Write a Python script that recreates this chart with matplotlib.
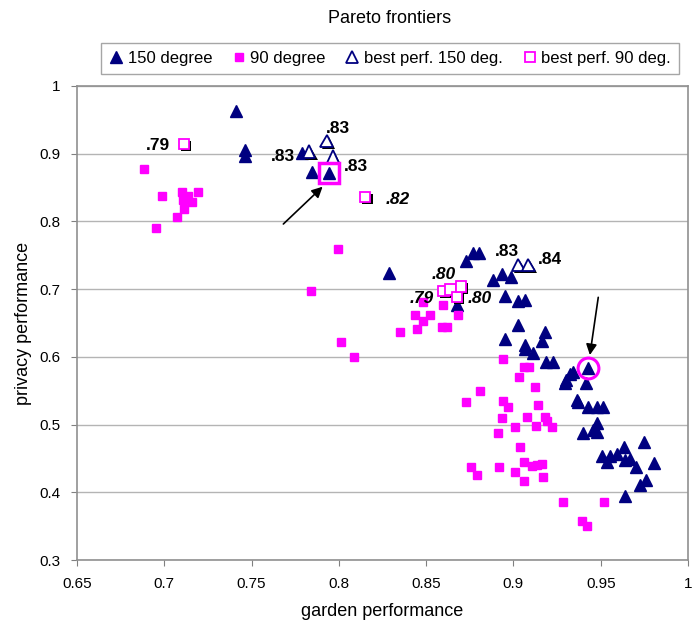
import matplotlib
matplotlib.use("Agg")
import matplotlib.pyplot as plt
import matplotlib.patheffects as pe
from matplotlib.lines import Line2D

plt.rcParams['font.family'] = ['Liberation Sans', 'DejaVu Sans']

# 150 degree runs (garden, privacy)
deg150_x = [0.7411, 0.7463, 0.7463, 0.7787, 0.7844, 0.7943, 0.8286, 0.8728, 0.8770, 0.8804,
            0.8883, 0.8932, 0.8984, 0.8677, 0.8952, 0.9028, 0.9066, 0.9028, 0.8952, 0.9066,
            0.9181, 0.9162, 0.9066, 0.9115, 0.9187, 0.9225, 0.9324, 0.9302, 0.9430, 0.9417,
            0.9363, 0.9372, 0.9430, 0.9477, 0.9515, 0.9477, 0.9397, 0.9455, 0.9477, 0.9748,
            0.9508, 0.9555, 0.9594, 0.9632, 0.9538, 0.9642, 0.9670, 0.9704, 0.9808, 0.9724,
            0.9762, 0.9642, 0.9342, 0.9295]
deg150_y = [0.963, 0.906, 0.897, 0.901, 0.873, 0.872, 0.724, 0.741, 0.753, 0.753,
            0.714, 0.723, 0.718, 0.677, 0.690, 0.682, 0.684, 0.647, 0.627, 0.617,
            0.637, 0.624, 0.612, 0.605, 0.592, 0.592, 0.575, 0.566, 0.583, 0.562,
            0.536, 0.533, 0.526, 0.526, 0.526, 0.502, 0.487, 0.492, 0.489, 0.475,
            0.454, 0.454, 0.457, 0.467, 0.444, 0.447, 0.449, 0.438, 0.443, 0.411,
            0.418, 0.395, 0.578, 0.561]

# 90 degree runs
deg90_x = [0.6881, 0.6985, 0.7100, 0.7105, 0.7137, 0.7156, 0.7195, 0.7113, 0.7074, 0.6952,
           0.7997, 0.7838, 0.8436, 0.8350, 0.8449, 0.8010, 0.8086, 0.8483, 0.8522, 0.8589,
           0.8621, 0.8598, 0.8684, 0.8483, 0.8938, 0.9060, 0.9090, 0.9033, 0.9123, 0.8808,
           0.8726, 0.8938, 0.8970, 0.9142, 0.8932, 0.9079, 0.9180, 0.9190, 0.9129, 0.9221,
           0.9007, 0.8913, 0.9037, 0.8755, 0.8793, 0.8915, 0.9062, 0.9104, 0.9133, 0.9165,
           0.9009, 0.9060, 0.9171, 0.9285, 0.9520, 0.9391, 0.9423]
deg90_y = [0.877, 0.8375, 0.844, 0.8316, 0.8375, 0.829, 0.8434, 0.8179, 0.8065, 0.791,
           0.7588, 0.6976, 0.6625, 0.6366, 0.6406, 0.6223, 0.6001, 0.6533, 0.6617, 0.6436,
           0.6445, 0.6765, 0.6617, 0.6814, 0.5963, 0.5854, 0.5854, 0.5697, 0.555, 0.5499,
           0.5328, 0.5352, 0.5263, 0.5288, 0.5092, 0.5115, 0.5115, 0.5056, 0.4978, 0.4959,
           0.4959, 0.4879, 0.4663, 0.4377, 0.4254, 0.4368, 0.4442, 0.4387, 0.4402, 0.4417,
           0.4303, 0.417, 0.422, 0.3851, 0.3851, 0.3579, 0.3505]

# best performers
best150_x = [0.7830, 0.7930, 0.7966, 0.9028, 0.9085]
best150_y = [0.903, 0.919, 0.8956, 0.7356, 0.7356]
best90_x = [0.7113, 0.8151, 0.8599, 0.8639, 0.8676, 0.8699]
best90_y = [0.9143, 0.8365, 0.6972, 0.6994, 0.6883, 0.7038]

# value labels
label_text = ['.79', '.83', '.83', '.83', '.82', '.80', '.79', '.80', '.83', '.84']
label_x = [0.6966, 0.7682, 0.7997, 0.8098, 0.8338, 0.8602, 0.8474, 0.8808, 0.8961, 0.9209]
label_y = [0.9114, 0.8966, 0.9375, 0.8808, 0.8331, 0.7223, 0.6864, 0.6864, 0.7552, 0.744]
label_italic = [False, False, False, False, True, True, True, True, False, False]

# highlighted points and arrows
pick_square = (0.7943, 0.872)
pick_circle = (0.9430, 0.583)
arrows = [((0.7682, 0.7962), (0.7907, 0.8513)),
          ((0.9486, 0.6879), (0.9438, 0.6027))]

navy = '#000080'
magenta = '#ff00ff'

fig = plt.figure(figsize=(6.92, 6.3), dpi=100)
ax = fig.add_axes([0.1113, 0.1111, 0.8829, 0.7524])

shadow = [pe.SimplePatchShadow(offset=(1.5, -1.5), shadow_rgbFace='k', alpha=1.0), pe.Normal()]

ax.plot(deg150_x, deg150_y, ls='none', marker='^', ms=8, color=navy, mec=navy, zorder=3)
ax.plot(deg90_x, deg90_y, ls='none', marker='s', ms=5.8, color=magenta, mec=magenta, zorder=3)
b150, = ax.plot(best150_x, best150_y, ls='none', marker='^', ms=9, mfc='white', mec=navy,
                mew=1.3, zorder=4)
b150.set_path_effects(shadow)
b90, = ax.plot(best90_x, best90_y, ls='none', marker='s', ms=7.5, mfc='white', mec=magenta,
               mew=1.3, zorder=4)
b90.set_path_effects(shadow)

ax.plot([pick_square[0]], [pick_square[1]], ls='none', marker='s', ms=15, mfc='none',
        mec=magenta, mew=2.5, zorder=5)
ax.plot([pick_circle[0]], [pick_circle[1]], ls='none', marker='o', ms=15, mfc='none',
        mec=magenta, mew=2.2, zorder=5)

for t, x, y, it in zip(label_text, label_x, label_y, label_italic):
    ax.text(x, y, t, ha='center', va='center', fontsize=12.5, fontweight='bold',
            style='italic' if it else 'normal', zorder=6)

for start, tip in arrows:
    ax.annotate('', xy=tip, xytext=start,
                arrowprops=dict(arrowstyle='-|>', color='k', lw=1.2, mutation_scale=16,
                                shrinkA=0, shrinkB=0), zorder=6)

ax.set_xlim(0.65, 1.0)
ax.set_ylim(0.3, 1.0)
xt = [0.65, 0.7, 0.75, 0.8, 0.85, 0.9, 0.95, 1.0]
ax.set_xticks(xt)
ax.set_xticklabels(['0.65', '0.7', '0.75', '0.8', '0.85', '0.9', '0.95', '1'])
yt = [0.3, 0.4, 0.5, 0.6, 0.7, 0.8, 0.9, 1.0]
ax.set_yticks(yt)
ax.set_yticklabels(['0.3', '0.4', '0.5', '0.6', '0.7', '0.8', '0.9', '1'])
ax.tick_params(labelsize=11, colors='#808080', labelcolor='black', length=4, pad=8)
ax.yaxis.grid(True, color='#b4b4b4', lw=1)
ax.set_axisbelow(True)
for s in ax.spines.values():
    s.set_color('#909090')
    s.set_linewidth(1.2)

ax.set_xlabel('garden performance', fontsize=13, labelpad=9)
ax.set_ylabel('privacy performance', fontsize=13, labelpad=5)

fig.text(0.5636, 0.971, 'Pareto frontiers', ha='center', va='center', fontsize=13)
handles = [
    Line2D([], [], ls='none', marker='^', ms=8, color=navy),
    Line2D([], [], ls='none', marker='s', ms=5.8, color=magenta),
    Line2D([], [], ls='none', marker='^', ms=9, mfc='white', mec=navy, mew=1.3),
    Line2D([], [], ls='none', marker='s', ms=7.5, mfc='white', mec=magenta, mew=1.3),
]
names = ['150 degree', '90 degree', 'best perf. 150 deg.', 'best perf. 90 deg.']
leg = fig.legend(handles, names, loc='center', bbox_to_anchor=(0.5636, 0.907),
                 ncol=4, fontsize=12, frameon=True, fancybox=False, edgecolor='#909090',
                 handlelength=0.8, handletextpad=0.3, columnspacing=1.2, borderpad=0.5)
leg.get_frame().set_linewidth(1.0)

fig.savefig('out.png', dpi=100)
